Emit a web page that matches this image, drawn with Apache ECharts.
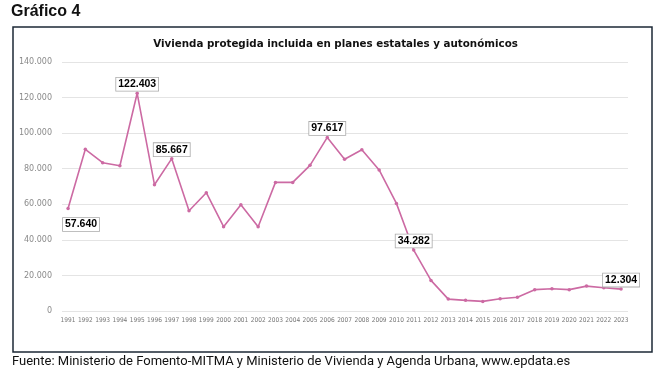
<!DOCTYPE html>
<html><head><meta charset="utf-8">
<script src="https://cdn.jsdelivr.net/npm/echarts@6/dist/echarts.min.js"></script>
<style>html,body{margin:0;padding:0;background:#fff}#c{width:671px;height:381px}</style>
</head><body><div id="c"></div>
<script>
const years = [1991,1992,1993,1994,1995,1996,1997,1998,1999,2000,2001,2002,2003,2004,2005,2006,2007,2008,2009,2010,2011,2012,2013,2014,2015,2016,2017,2018,2019,2020,2021,2022,2023];
const values = [57640,90900,83400,81700,122403,71000,85667,56400,66500,47400,59800,47400,72300,72300,81900,97617,85300,90700,79300,60500,34282,17200,6700,6000,5400,6900,7700,12000,12500,12000,14000,13100,12304];
const labelledYears = [1991,1995,1997,2006,2011,2023];
const yTicks = [0,20000,40000,60000,80000,100000,120000,140000];

const fmt = v => String(v).replace(/\B(?=(\d{3})+(?!\d))/g, '.');
const below = {1991: [13, 16]};
const data = years.map((y, i) => {
  const item = {value: [y, values[i]]};
  if (labelledYears.includes(y)) {
    const off = below[y] || [0, -9];
    item.label = {show: true, position: 'inside', offset: off};
  }
  return item;
});

const chart = echarts.init(document.getElementById('c'), null, {renderer: 'canvas'});
chart.setOption({
  animation: false,
  backgroundColor: '#fff',
  graphic: [
    {type: 'text', left: 11, top: 4, style: {text: 'Gráfico 4', font: 'bold 16px "Liberation Sans", Arial', fill: '#111'}},
    {type: 'rect', shape: {x: 13, y: 27, width: 639, height: 325}, style: {fill: 'none', stroke: '#1c2836', lineWidth: 1.5}},
    {type: 'text', left: 12, top: 355, style: {text: 'Fuente: Ministerio de Fomento-MITMA y Ministerio de Vivienda y Agenda Urbana, www.epdata.es', font: '13px Roboto', fill: '#111'}}
  ],
  title: {
    text: 'Vivienda protegida incluida en planes estatales y autonómicos',
    left: 'center', top: 34,
    textStyle: {fontFamily: '"DejaVu Sans"', fontSize: 10.3, fontWeight: 'bold', color: '#111'}
  },
  grid: {left: 62, right: 43, top: 62, bottom: 70, containLabel: false},
  xAxis: {
    type: 'value', min: 1990.65, max: 2023.4,
    axisLine: {show: false}, axisTick: {show: false}, splitLine: {show: false},
    axisLabel: {customValues: years, color: '#777', fontSize: 6.5, fontFamily: '"DejaVu Sans Condensed", "DejaVu Sans"', margin: 6, formatter: v => String(v)}
  },
  yAxis: {
    type: 'value', min: 0, max: 140000, interval: 20000,
    axisLine: {show: false}, axisTick: {show: false},
    splitLine: {lineStyle: {color: '#e4e4e4', width: 1}},
    axisLabel: {color: '#8a8a8a', fontSize: 8, fontFamily: '"DejaVu Sans"', margin: 10, formatter: v => fmt(v)}
  },
  series: [{
    type: 'line', data: data,
    symbol: 'circle', symbolSize: 3.5,
    lineStyle: {color: '#cc6aa3', width: 1.6},
    itemStyle: {color: '#cc6aa3'},
    label: {
      show: false,
      formatter: p => fmt(p.value[1]),
      color: '#000', fontSize: 10.5, fontWeight: 'bold', fontFamily: '"Liberation Sans", Arial',
      backgroundColor: '#fff', borderColor: '#aaa', borderWidth: 0.8, padding: [1, 2]
    }
  }]
});
</script></body></html>
